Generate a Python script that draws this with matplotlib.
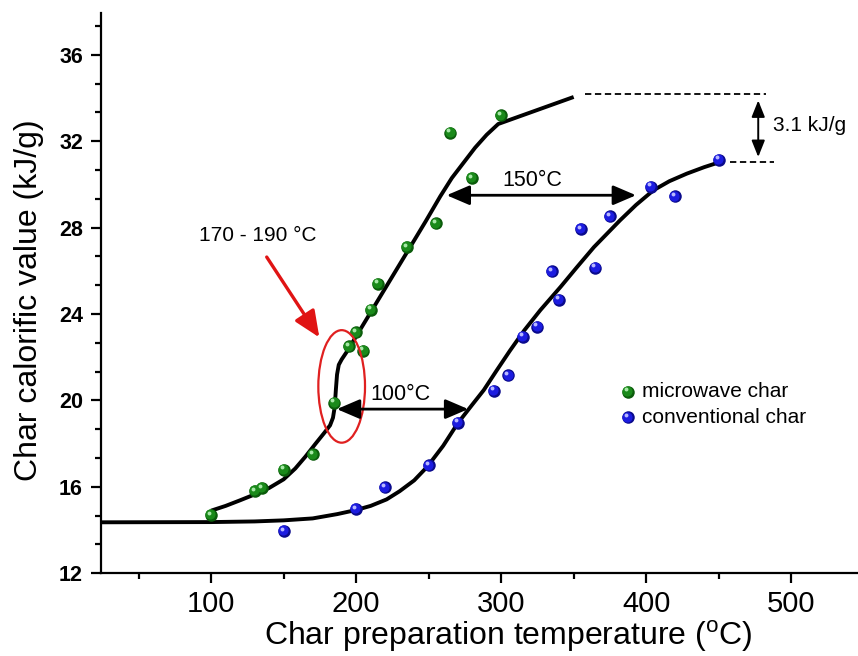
import matplotlib
matplotlib.use("Agg")
import matplotlib.pyplot as plt
from matplotlib.patches import Ellipse, FancyArrowPatch
from matplotlib.ticker import MultipleLocator, AutoMinorLocator
from matplotlib.transforms import offset_copy

plt.rcParams['font.family'] = ['Liberation Sans', 'DejaVu Sans']
plt.rcParams['mathtext.fontset'] = 'custom'
plt.rcParams['mathtext.rm'] = 'Liberation Sans'

# Measured calorific values (kJ/g) against char preparation temperature (°C)
microwave_temp = [100, 130, 135, 150, 170, 185, 195, 200, 205, 210, 215, 235, 255, 265, 280, 300]
microwave_cv = [14.7, 15.8, 15.95, 16.8, 17.5, 19.9, 22.5, 23.15, 22.3, 24.2, 25.4, 27.1, 28.2, 32.4, 30.3, 33.2]

conventional_temp = [150, 200, 220, 250, 270, 295, 305, 315, 325, 340, 335, 355, 365, 375, 403, 420, 450]
conventional_cv = [13.95, 14.97, 15.98, 17.0, 18.97, 20.45, 21.17, 22.95, 23.41, 24.67, 25.98, 27.93, 26.15, 28.53, 29.9, 29.45, 31.15]

# Fitted trend lines
microwave_fit_t = [100, 110, 120, 130, 140, 150, 158, 165, 172, 178, 182, 184, 185.2, 186, 186.8, 188, 190,
                   194, 200, 210, 220, 230, 240, 248, 258, 266, 274, 282, 290, 298, 350]
microwave_fit_cv = [14.9, 15.12, 15.38, 15.65, 15.95, 16.35, 16.85, 17.4, 18.0, 18.5, 18.85, 19.2, 19.7, 20.5, 21.2, 21.65, 21.9,
                    22.3, 22.97, 24.08, 25.19, 26.3, 27.41, 28.3, 29.45, 30.3, 31.0, 31.7, 32.3, 32.8, 34.05]

conventional_fit_t = [24, 100, 130, 150, 170, 187, 200, 210, 221, 230, 240, 249, 260, 270, 280, 288, 297,
                      306, 316, 327, 341, 352, 364, 382, 393, 405, 416, 428, 440, 451]
conventional_fit_cv = [14.36, 14.37, 14.4, 14.45, 14.54, 14.74, 14.93, 15.12, 15.42, 15.8, 16.3, 16.93, 17.9, 18.94, 19.8, 20.48, 21.4,
                       22.3, 23.25, 24.18, 25.26, 26.15, 27.1, 28.34, 29.05, 29.73, 30.15, 30.5, 30.8, 31.04]

x_ticks = [100, 200, 300, 400, 500]
y_ticks = [12, 16, 20, 24, 28, 32, 36]

series_labels = ['microwave char', 'conventional char']

fig = plt.figure(figsize=(8.58, 6.56), dpi=100)
ax = fig.add_axes([0.1177, 0.1261, 0.8811, 0.8545])
ax.set_xlim(24, 545.4)
ax.set_ylim(12, 37.95)

GREEN = ('#1a8a1a', '#0b5c0b', '#a8e8a8')
BLUE = ('#1c1ce0', '#0a0a8c', '#b8b8ff')


def balls(x, y, colors, z):
    base, dark, light = colors
    t0 = ax.transData
    ax.plot(x, y, 'o', ms=9.0, mfc=dark, mec='none', zorder=z, transform=t0, clip_on=False)
    t1 = offset_copy(t0, fig=fig, x=-0.5, y=0.5, units='points')
    ax.plot(x, y, 'o', ms=7.3, mfc=base, mec='none', zorder=z + 0.1, transform=t1, clip_on=False)
    t2 = offset_copy(t0, fig=fig, x=-1.4, y=1.7, units='points')
    ax.plot(x, y, 'o', ms=2.8, mfc=light, mec='none', zorder=z + 0.2, transform=t2, clip_on=False)


# trend lines
ax.plot(microwave_fit_t, microwave_fit_cv, color='black', lw=2.8, zorder=3,
        solid_joinstyle='round', solid_capstyle='butt')
ax.plot(conventional_fit_t, conventional_fit_cv, color='black', lw=2.8, zorder=3,
        solid_joinstyle='round', solid_capstyle='butt')

# data points
balls(microwave_temp, microwave_cv, GREEN, 5)
balls(conventional_temp, conventional_cv, BLUE, 5)

# axes styling
for side in ('top', 'right'):
    ax.spines[side].set_visible(False)
for side in ('left', 'bottom'):
    ax.spines[side].set_linewidth(1.6)

ax.set_xticks(x_ticks)
ax.xaxis.set_minor_locator(MultipleLocator(50))
ax.set_yticks(y_ticks)
ax.yaxis.set_minor_locator(AutoMinorLocator(3))
ax.tick_params(which='major', direction='out', length=7, width=1.6)
ax.tick_params(which='minor', direction='out', length=4, width=1.6)
ax.tick_params(axis='x', which='major', labelsize=21, pad=5)
ax.tick_params(axis='y', which='major', labelsize=15.5, pad=6)
for lab in ax.get_yticklabels():
    lab.set_fontweight('bold')

fig.text(508 / 858, 1 - 636 / 656, 'Char preparation temperature ($^{\\mathrm{o}}$C)',
         ha='center', va='center', fontsize=23)
fig.text(29 / 858, 1 - 300 / 656, 'Char calorific value (kJ/g)', rotation=90,
         ha='center', va='center', fontsize=23)

# highlighted transition region
ax.add_patch(Ellipse((190, 20.65), 32.2, 5.21, fill=False, edgecolor='#e02020', lw=1.6, zorder=6))
ax.add_patch(FancyArrowPatch((138.3, 26.64), (174.6, 22.92),
                             arrowstyle='-|>,head_length=1.6,head_width=0.7', mutation_scale=10,
                             color='#e01414', lw=2.4, zorder=6, shrinkA=0, shrinkB=0))
ax.text(132.3, 27.65, '170 - 190 °C', ha='center', va='center', fontsize=15)

# temperature shift arrows
ax.add_patch(FancyArrowPatch((186.7, 19.6), (277.3, 19.6),
                             arrowstyle='<|-|>,head_length=1.4,head_width=0.6', mutation_scale=10,
                             color='black', lw=2.0, zorder=6, shrinkA=0, shrinkB=0))
ax.text(230.2, 20.26, '100°C', ha='center', va='center', fontsize=15.5)

ax.add_patch(FancyArrowPatch((262.4, 29.5), (393, 29.5),
                             arrowstyle='<|-|>,head_length=1.4,head_width=0.6', mutation_scale=10,
                             color='black', lw=2.0, zorder=6, shrinkA=0, shrinkB=0))
ax.text(321.6, 30.19, '150°C', ha='center', va='center', fontsize=15.5)

# plateau difference
ax.plot([357.8, 483], [34.2, 34.2], color='black', lw=1.3, ls=(0, (3.5, 2)), zorder=4)
ax.plot([458, 488], [31.04, 31.04], color='black', lw=1.3, ls=(0, (3.5, 2)), zorder=4)
ax.add_patch(FancyArrowPatch((477.3, 33.89), (477.3, 31.27),
                             arrowstyle='<|-|>,head_length=1.0,head_width=0.4', mutation_scale=10,
                             color='black', lw=1.4, zorder=6, shrinkA=0, shrinkB=0))
ax.text(487.6, 32.74, '3.1 kJ/g', ha='left', va='center', fontsize=15)

# legend
leg_x = 387.2
leg_tx = 396.9
leg_y = [20.4, 19.22]
balls([leg_x], [leg_y[0]], GREEN, 7)
balls([leg_x], [leg_y[1]], BLUE, 7)
ax.text(leg_tx, leg_y[0], series_labels[0], ha='left', va='center', fontsize=15)
ax.text(leg_tx, leg_y[1], series_labels[1], ha='left', va='center', fontsize=15)

fig.savefig('out.png', dpi=100)
